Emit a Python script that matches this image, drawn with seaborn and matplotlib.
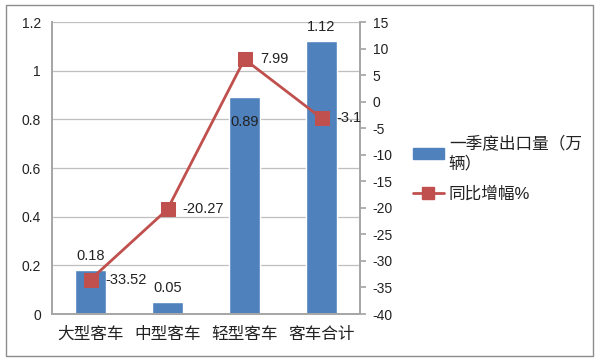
import matplotlib
matplotlib.use("Agg")
import matplotlib.pyplot as plt
import seaborn as sns
import numpy as np
import pandas as pd
from matplotlib.patches import Patch, Rectangle
from matplotlib.lines import Line2D

categories = ["大型客车", "中型客车", "轻型客车", "客车合计"]
export_volume = [0.18, 0.05, 0.89, 1.12]
yoy_growth = [-33.52, -20.27, 7.99, -3.1]
bar_name = "一季度出口量（万\n辆）"
line_name = "同比增幅%"

sns.set_theme(style="white")
plt.rcParams['font.family'] = ['Liberation Sans', 'Noto Sans CJK SC', 'DejaVu Sans']
plt.rcParams['axes.unicode_minus'] = False

BLUE = "#4F81BD"
RED = "#C0504D"
TXT = "#222222"

fig = plt.figure(figsize=(6, 3.6), dpi=100)
ax = fig.add_axes([52/600, 1-314/360, (360-52)/600, (314-22)/360])

df = pd.DataFrame({"cat": categories, "vol": export_volume, "yoy": yoy_growth})
sns.barplot(data=df, x="cat", y="vol", ax=ax, color=BLUE, width=0.4, saturation=1)
ax.set_ylim(0, 1.2)
ax.set_xlim(-0.5, len(categories) - 0.5)
ax.set_yticks(np.arange(0, 1.21, 0.2))
ax.set_yticklabels(["0", "0.2", "0.4", "0.6", "0.8", "1", "1.2"])
ax.yaxis.grid(True, color="#BFBFBF", linewidth=0.9)
ax.set_axisbelow(True)
ax.set_xlabel("")
ax.set_ylabel("")
ax.spines["top"].set_visible(False)
for s in ["left", "right", "bottom"]:
    ax.spines[s].set_color("#A6A6A6")
ax.tick_params(axis="y", labelsize=10, length=0, pad=8, colors=TXT)
ax.tick_params(axis="x", labelsize=12, length=0, pad=9, colors=TXT)
ax.set_xticks(np.arange(-0.5, len(categories)), minor=True)
ax.tick_params(axis="x", which="minor", length=5, color="#A6A6A6", direction="out")

ax2 = ax.twinx()
sns.lineplot(x=np.arange(len(categories)), y=yoy_growth, ax=ax2, color=RED, linewidth=2,
             marker="s", markersize=10, markeredgecolor=RED, markerfacecolor=RED, sort=False)
ax2.set_ylim(-40, 15)
ax2.set_yticks(np.arange(-40, 16, 5))
ax2.tick_params(axis="y", labelsize=10, length=4, color="#A6A6A6", pad=5, colors=TXT)
ax2.spines["top"].set_visible(False)
for s in ["left", "right", "bottom"]:
    ax2.spines[s].set_color("#A6A6A6")
ax2.set_ylabel("")
ax2.grid(False)

# bar value labels
for i, v in enumerate(export_volume):
    if i == 2:
        ax.text(i, v - 0.1, f"{v:g}", ha="center", va="center", fontsize=10.5, color=TXT)
    else:
        ax.text(i, v + 0.03, f"{v:g}", ha="center", va="bottom", fontsize=10.5, color=TXT)

# line value labels
for i, v in enumerate(yoy_growth):
    ax2.annotate(f"{v:g}", (i, v), xytext=(11, 0), textcoords="offset points",
                 ha="left", va="center", fontsize=10.5, color=TXT)

handles = [Patch(facecolor=BLUE, edgecolor=BLUE),
           Line2D([0], [0], color=RED, linewidth=2, marker="s", markersize=8)]
leg = fig.legend(handles, [bar_name, line_name], loc="upper left",
                 bbox_to_anchor=(413/600, 1-135/360), borderaxespad=0, borderpad=0,
                 frameon=False, fontsize=12, handlelength=1.85, labelspacing=0.9,
                 handletextpad=0.3)
for t in leg.get_texts():
    t.set_color(TXT)
    t.set_linespacing(1.35)

fig.add_artist(Rectangle((6/600, 4/360), 587/600, 351/360, transform=fig.transFigure,
                         fill=False, edgecolor="#8C8C8C", linewidth=1))

fig.savefig("out.png", dpi=100)
